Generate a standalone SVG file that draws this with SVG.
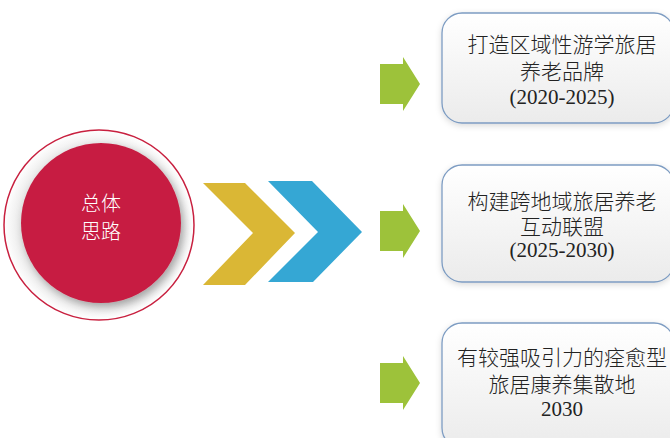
<svg xmlns="http://www.w3.org/2000/svg" width="670" height="438" viewBox="0 0 670 438">
<defs>
<style>
.box{fill:url(#boxg);stroke:#7D9CC2;stroke-width:1.3;filter:url(#sh)}
.bt{font-family:"Liberation Serif","Noto Sans CJK SC",serif;font-weight:300;font-size:21px;fill:#222;text-anchor:middle}
.ct{font-family:"Noto Sans CJK SC",sans-serif;font-weight:200;font-size:20px;fill:#fff;text-anchor:middle}
.garrow{fill:#9DC23A}
</style>
<linearGradient id="boxg" x1="0" y1="0" x2="0" y2="1">
<stop offset="0" stop-color="#ffffff"/>
<stop offset="1" stop-color="#ebebeb"/>
</linearGradient>
<radialGradient id="ringg" cx="0.5" cy="0.5" r="0.5">
<stop offset="0.8" stop-color="#e6e6e6"/>
<stop offset="1" stop-color="#ffffff"/>
</radialGradient>
<filter id="sh" x="-20%" y="-20%" width="140%" height="140%">
<feDropShadow dx="0" dy="2" stdDeviation="3" flood-color="#000" flood-opacity="0.15"/>
</filter>
<filter id="csh" x="-20%" y="-20%" width="140%" height="140%">
<feDropShadow dx="3" dy="4" stdDeviation="4" flood-color="#000" flood-opacity="0.3"/>
</filter>
<path id="ga" d="M0,-20 H23 V-27 L40,0 L23,27 V20 H0 Z"/>
</defs>
<rect width="670" height="438" fill="#fff"/>
<g id="node-center">
<circle cx="99" cy="225" r="95" fill="url(#ringg)" stroke="#C8203F" stroke-width="1.5"/>
<circle cx="101" cy="223" r="80" fill="#C71E42" filter="url(#csh)"/>
<text class="ct" x="101" y="211">总体</text>
<text class="ct" x="101" y="239">思路</text>
</g>
<g id="connectors">
<polygon points="203,183 245,183 295,233 245,285 203,285 253,233" fill="#DAB735"/>
<polygon points="268,181 312,181 362,232 313,282 268,282 318,232" fill="#35A7D4"/>
<use href="#ga" class="garrow" x="380" y="84"/>
<use href="#ga" class="garrow" x="380" y="231"/>
<use href="#ga" class="garrow" x="380" y="383"/>
</g>
<g id="node-1">
<rect class="box" x="442" y="13" width="232" height="110" rx="20"/>
<text class="bt" x="562" y="52">打造区域性游学旅居</text>
<text class="bt" x="562" y="79">养老品牌</text>
<text class="bt" x="562" y="104">(2020-2025)</text>
</g>
<g id="node-2">
<rect class="box" x="442" y="165" width="232" height="117" rx="20"/>
<text class="bt" x="562" y="209">构建跨地域旅居养老</text>
<text class="bt" x="562" y="234">互动联盟</text>
<text class="bt" x="562" y="257">(2025-2030)</text>
</g>
<g id="node-3">
<rect class="box" x="442" y="323" width="232" height="125" rx="20"/>
<text class="bt" x="562" y="365">有较强吸引力的痊愈型</text>
<text class="bt" x="562" y="392">旅居康养集散地</text>
<text class="bt" x="562" y="416">2030</text>
</g>
</svg>
